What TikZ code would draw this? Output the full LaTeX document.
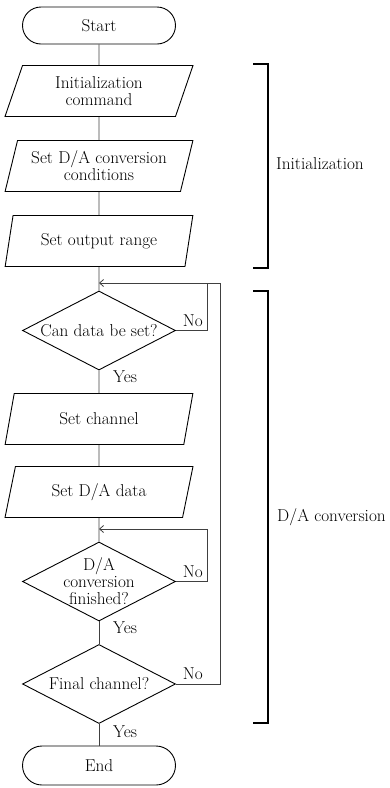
\documentclass[tikz,border=0pt]{standalone}
\usetikzlibrary{shapes.geometric,shapes.misc,arrows.meta,calc}
\begin{document}
\begin{tikzpicture}[x=1pt,y=-1pt,
  every node/.style={font=\fontsize{17.2}{17}\selectfont, inner sep=0pt},
  shp/.style={draw=black, line width=0.9pt},
  term/.style={shp, rounded rectangle, minimum width=153pt, minimum height=37pt},
  para/.style={shp, trapezium, trapezium left angle=71, trapezium right angle=109,
     trapezium stretches=true, minimum width=188pt, minimum height=51pt, align=center},
  dec/.style={shp, diamond, minimum width=153pt, minimum height=79pt, aspect=1.94},
  conn/.style={draw=black!75, line width=0.8pt},
  arr/.style={conn, -{Straight Barb[length=4pt,width=7pt]}},
  brk/.style={draw=black, line width=1.3pt},
  lbl/.style={font=\fontsize{17.2}{17}\selectfont}
]
\useasboundingbox (0,0) rectangle (389,788);

\node[term] (start) at (99,25.5) {Start};
\node[para] (p1) at (99,91) {Initialization\\command};
\node[para] (p2) at (99,166) {Set D/A conversion\\conditions};
\node[para] (p3) at (99,241) {Set output range};
\node[dec, label={center:Can data be set?}] (d1) at (99,330.5) {};
\node[para] (p4) at (99,419) {Set channel};
\node[para] (p5) at (99,492) {Set D/A data};
\node[dec, label={[align=center]center:D/A\\conversion\\finished?}] (d2) at (99,581.5) {};
\node[dec, label={center:Final channel?}] (d3) at (99,684) {};
\node[term, minimum height=39pt] (end) at (99,765.5) {End};

\coordinate (j1) at (99,283);
\coordinate (c1) at (207,283);
\coordinate (c1o) at (220,283);
\coordinate (j2) at (99,529);
\coordinate (c2) at (207,529);

\draw[conn] (start.south) -- (p1.north);
\draw[conn] (p1.south) -- (p2.north);
\draw[conn] (p2.south) -- (p3.north);
\draw[conn] (p3.south) -- (d1.north);
\draw[conn] (d1.south) -- (p4.north);
\draw[conn] (p4.south) -- (p5.north);
\draw[conn] (p5.south) -- (d2.north);
\draw[conn] (d2.south) -- (d3.north);
\draw[conn] (d3.south) -- (end.north);

\draw[arr] (d1.east) -| (c1) -- (j1);
\draw[conn] (d3.east) -| (c1o) -- (c1);
\draw[arr] (d2.east) -| (c2) -- (j2);

\node[anchor=south east] (no1) at ($(d1.east -| c1)+(-4,-4)$) {No};
\node[anchor=south east] (no2) at ($(d2.east -| c2)+(-4,-4)$) {No};
\node[anchor=south east] (no3) at ($(d3.east -| c2)+(-4,-4)$) {No};
\node[anchor=north west] (y1) at ($(d1.south)+(14,0)$) {Yes};
\node[anchor=north west] (y2) at ($(d2.south)+(14,0)$) {Yes};
\node[anchor=north west] (y3) at ($(d3.south)+(14,2)$) {Yes};

\coordinate (b1t) at (253,64);
\coordinate (b1b) at (253,268);
\coordinate (b2t) at (253,291);
\coordinate (b2b) at (253,723);
\draw[brk] (b1t) -- ++(15,0) |- (b1b);
\draw[brk] (b2t) -- ++(15,0) |- (b2b);
\node[lbl, anchor=west] (linit) at (276,164) {Initialization};
\node[lbl, anchor=west] (lda) at (277,517) {D/A conversion};
\end{tikzpicture}
\end{document}
